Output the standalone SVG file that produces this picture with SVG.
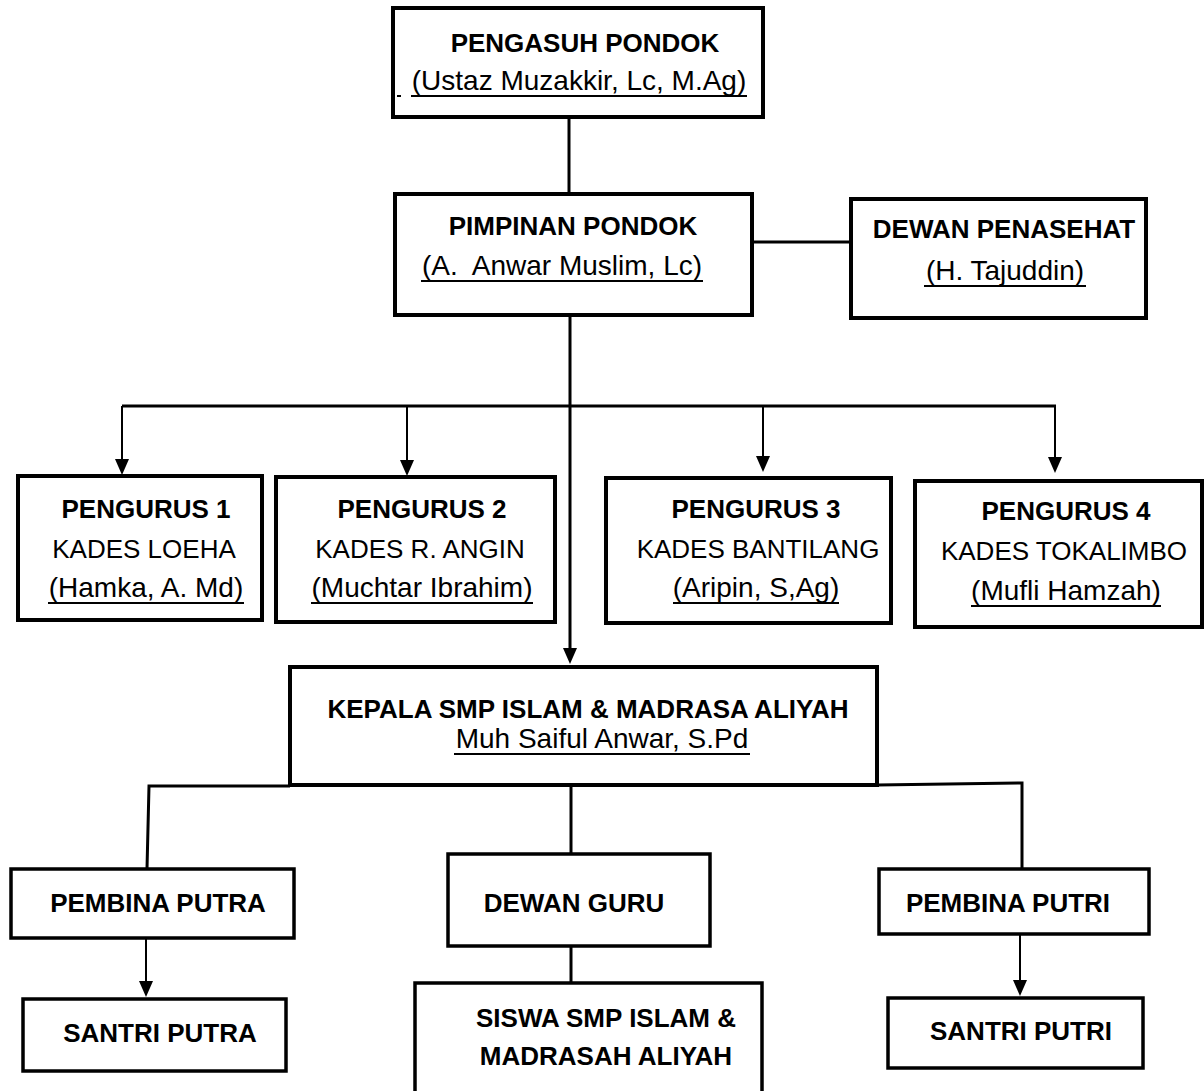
<svg xmlns="http://www.w3.org/2000/svg" width="1204" height="1091" viewBox="0 0 1204 1091">
<style>
.box{fill:#fff;stroke:#000;stroke-width:4}
.box2{fill:#fff;stroke:#000;stroke-width:3.5}
.ln{fill:none;stroke:#000;stroke-width:3}
.ar{fill:none;stroke:#000;stroke-width:2}
.ul{stroke:#000;stroke-width:2}
text{font-family:"Liberation Sans",Arial,sans-serif;fill:#000;text-anchor:middle}
.b{font-weight:bold;font-size:26px}
.r{font-size:26px}
.n{font-size:28px}
</style>
<defs>
<marker id="ah" viewBox="0 0 16 14" refX="10" refY="7" markerWidth="16" markerHeight="14" markerUnits="userSpaceOnUse" orient="auto">
<path d="M0,0 L16,7 L0,14 z" fill="#000"/>
</marker>
</defs>
<rect width="1204" height="1091" fill="#fff"/>
<g id="connectors">
<line class="ln" x1="569" y1="117" x2="569" y2="194"/>
<line class="ln" x1="752" y1="242" x2="851" y2="242"/>
<line class="ln" x1="570" y1="315" x2="570" y2="658" marker-end="url(#ah)"/>
<line class="ln" x1="122" y1="406" x2="1056" y2="406"/>
<line class="ar" x1="122" y1="406" x2="122" y2="469" marker-end="url(#ah)"/>
<line class="ar" x1="407" y1="406" x2="407" y2="470" marker-end="url(#ah)"/>
<line class="ar" x1="763" y1="406" x2="763" y2="466" marker-end="url(#ah)"/>
<line class="ar" x1="1055" y1="406" x2="1055" y2="467" marker-end="url(#ah)"/>
<path class="ln" d="M147,869 L149,786 L290,786"/>
<path class="ln" d="M877,785 L1022,783 L1022,869"/>
<line class="ln" x1="571" y1="785" x2="571" y2="854"/>
<line class="ln" x1="571" y1="946" x2="571" y2="983"/>
<line class="ar" x1="146" y1="938" x2="146" y2="991" marker-end="url(#ah)"/>
<line class="ar" x1="1020" y1="934" x2="1020" y2="990" marker-end="url(#ah)"/>
</g>
<g id="pengasuh">
<rect class="box" x="393" y="8" width="370" height="109"/>
<text class="b" x="585" y="52">PENGASUH PONDOK</text>
<text class="n" x="579" y="90">(Ustaz Muzakkir, Lc, M.Ag)</text>
<line class="ul" x1="397" y1="96" x2="401" y2="96"/>
<line class="ul" x1="411" y1="96" x2="747" y2="96"/>
</g>
<g id="pimpinan">
<rect class="box" x="395" y="194" width="357" height="121"/>
<text class="b" x="573" y="235">PIMPINAN PONDOK</text>
<text class="n" x="562" y="275" xml:space="preserve">(A.  Anwar Muslim, Lc)</text>
<line class="ul" x1="421" y1="281" x2="703" y2="281"/>
</g>
<g id="dewan-penasehat">
<rect class="box" x="851" y="199" width="295" height="119"/>
<text class="b" x="1004" y="238">DEWAN PENASEHAT</text>
<text class="n" x="1005" y="280">(H. Tajuddin)</text>
<line class="ul" x1="924" y1="286" x2="1086" y2="286"/>
</g>
<g id="pengurus1">
<rect class="box" x="18" y="476" width="244" height="144"/>
<text class="b" x="146" y="518">PENGURUS 1</text>
<text class="r" x="144" y="558">KADES LOEHA</text>
<text class="n" x="146" y="597">(Hamka, A. Md)</text>
<line class="ul" x1="48" y1="603" x2="244" y2="603"/>
</g>
<g id="pengurus2">
<rect class="box" x="276" y="477" width="279" height="145"/>
<text class="b" x="422" y="518">PENGURUS 2</text>
<text class="r" x="420" y="558">KADES R. ANGIN</text>
<text class="n" x="422" y="597">(Muchtar Ibrahim)</text>
<line class="ul" x1="311" y1="603" x2="533" y2="603"/>
</g>
<g id="pengurus3">
<rect class="box" x="606" y="478" width="285" height="145"/>
<text class="b" x="756" y="518">PENGURUS 3</text>
<text class="r" x="758" y="558">KADES BANTILANG</text>
<text class="n" x="756" y="597">(Aripin, S,Ag)</text>
<line class="ul" x1="673" y1="603" x2="839" y2="603"/>
</g>
<g id="pengurus4">
<rect class="box" x="915" y="481" width="287" height="146"/>
<text class="b" x="1066" y="520">PENGURUS 4</text>
<text class="r" x="1064" y="560">KADES TOKALIMBO</text>
<text class="n" x="1066" y="600">(Mufli Hamzah)</text>
<line class="ul" x1="971" y1="606" x2="1161" y2="606"/>
</g>
<g id="kepala">
<rect class="box" x="290" y="667" width="587" height="118"/>
<text class="b" x="588" y="718">KEPALA SMP ISLAM &amp; MADRASA ALIYAH</text>
<text class="n" x="602" y="748">Muh Saiful Anwar, S.Pd</text>
<line class="ul" x1="454" y1="754" x2="750" y2="754"/>
</g>
<g id="pembina-putra">
<rect class="box2" x="11" y="869" width="283" height="69"/>
<text class="b" x="158" y="912">PEMBINA PUTRA</text>
</g>
<g id="dewan-guru">
<rect class="box2" x="448" y="854" width="262" height="92"/>
<text class="b" x="574" y="912">DEWAN GURU</text>
</g>
<g id="pembina-putri">
<rect class="box2" x="879" y="869" width="270" height="65"/>
<text class="b" x="1008" y="912">PEMBINA PUTRI</text>
</g>
<g id="santri-putra">
<rect class="box2" x="23" y="999" width="263" height="72"/>
<text class="b" x="160" y="1042">SANTRI PUTRA</text>
</g>
<g id="siswa">
<rect class="box2" x="415" y="983" width="347" height="130"/>
<text class="b" x="606" y="1027">SISWA SMP ISLAM &amp;</text>
<text class="b" x="606" y="1065">MADRASAH ALIYAH</text>
</g>
<g id="santri-putri">
<rect class="box2" x="888" y="998" width="255" height="70"/>
<text class="b" x="1021" y="1040">SANTRI PUTRI</text>
</g>
</svg>
